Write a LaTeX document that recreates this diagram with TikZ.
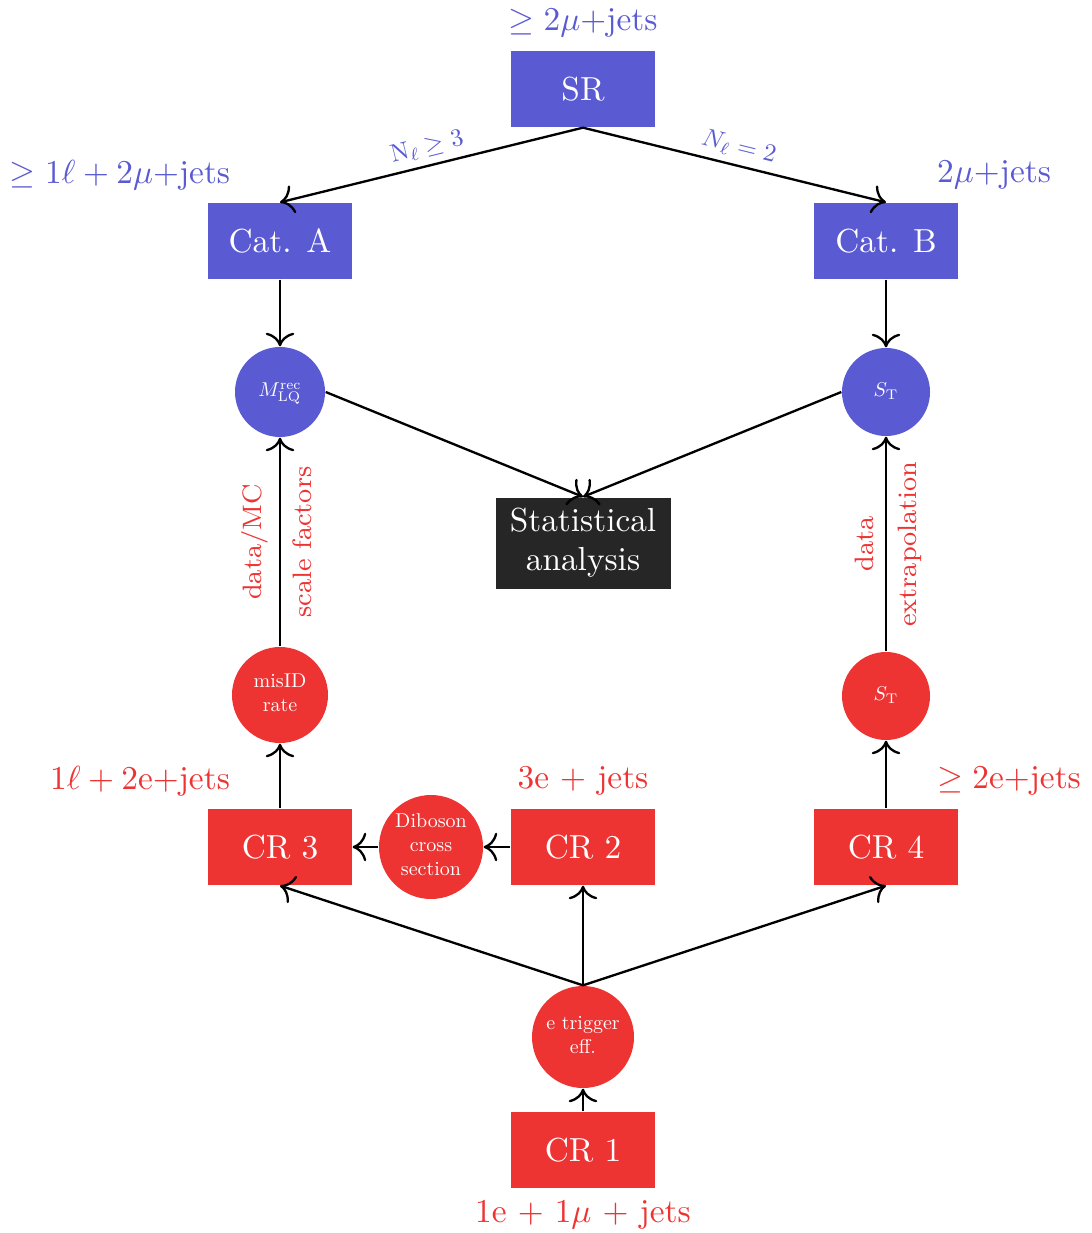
\documentclass[tikz,border=0pt]{standalone}
\usetikzlibrary{arrows.meta}
\definecolor{blueC}{HTML}{5A5AD3}
\definecolor{redC}{HTML}{EE3333}
\definecolor{darkC}{HTML}{262626}
\newcommand{\smalltxt}[1]{\scalebox{0.6}{\begin{tabular}{@{}c@{}}#1\end{tabular}}}
\tikzset{
  boxbase/.style={rectangle, text=white, inner sep=0pt, minimum width=43.2pt, minimum height=22.8pt, font=\fontsize{10}{12}\selectfont},
  bluebox/.style={boxbase, fill=blueC},
  redbox/.style={boxbase, fill=redC},
  circbase/.style={circle, text=white, inner sep=0pt, align=center, font=\fontsize{10}{12}\selectfont},
  bluecirc/.style={circbase, fill=blueC},
  redcirc/.style={circbase, fill=redC},
  bluelab/.style={text=blueC, font=\fontsize{10}{12}\selectfont},
  redlab/.style={text=redC, font=\fontsize{10}{12}\selectfont},
  conn/.style={-{To[scale=1.3]}, line width=0.7pt, black},
  elab/.style={font=\fontsize{10}{12}\selectfont, sloped, inner sep=2pt},
  vlab/.style={font=\fontsize{8}{9.6}\selectfont, sloped, text=redC}
}
\begin{document}
\begin{tikzpicture}[x=0.3pt, y=-0.3pt]
\useasboundingbox (0,0) rectangle (1091,1233);
% blue part
\node[bluebox] (sr) at (583,89) {SR};
\node[bluelab] (srl) at (583,23) {$\geq 2\mu$+jets};
\node[bluebox] (cata) at (280,241) {Cat. A};
\node[bluebox] (catb) at (886,241) {Cat. B};
\node[bluelab] (catal) at (120,175) {$\geq 1\ell + 2\mu$+jets};
\node[bluelab] (catbl) at (994,175) {$2\mu$+jets};
\node[bluecirc, minimum size=27pt] (mlq) at (280,392) {\smalltxt{$M_{\mathrm{LQ}}^{\mathrm{rec}}$}};
\node[bluecirc, minimum size=26.4pt] (stb) at (886,392) {\smalltxt{$S_{\mathrm{T}}$}};
\node[rectangle, fill=darkC, text=white, align=center, inner sep=0pt, minimum width=52.5pt, minimum height=27.3pt, font=\fontsize{10}{11.7}\selectfont] (stat) at (583,543) {Statistical\\analysis};
% red part
\node[redcirc, minimum size=28.8pt] (misid) at (280,695) {\smalltxt{misID\\rate}};
\node[redcirc, minimum size=26.4pt] (str) at (886,696) {\smalltxt{$S_{\mathrm{T}}$}};
\node[redbox] (cr3) at (280,847) {CR 3};
\node[redbox] (cr2) at (583,847) {CR 2};
\node[redbox] (cr4) at (886,847) {CR 4};
\node[redcirc, minimum size=31.2pt] (dib) at (431,847) {\smalltxt{Diboson\\cross\\section}};
\node[redcirc, minimum size=30.6pt] (trig) at (583,1037) {\smalltxt{e trigger\\eff.}};
\node[redbox] (cr1) at (583,1150) {CR 1};
\node[redlab] (cr3l) at (140,781) {$1\ell + 2$e+jets};
\node[redlab] (cr2l) at (583,781) {3e $+$ jets};
\node[redlab] (cr4l) at (1009,781) {$\geq 2$e+jets};
\node[redlab] (cr1l) at (583,1215) {1e $+$ 1$\mu$ $+$ jets};
% connectors
\draw[conn] (sr.south) -- node[elab, above, text=blueC] {\scalebox{0.75}{$\mathrm{N}_\ell \geq 3$}} (cata.north);
\draw[conn] (sr.south) -- node[elab, above, text=blueC] {\scalebox{0.75}{$N_\ell = 2$}} (catb.north);
\draw[conn] (cata.south) -- (mlq.north);
\draw[conn] (catb.south) -- (stb.north);
\draw[conn] (mlq.east) -- (stat.north);
\draw[conn] (stb.west) -- (stat.north);
\draw[conn] (misid.north) -- node[vlab, above] {data/MC} node[vlab, below] {scale factors} (mlq.south);
\draw[conn] (str.north) -- node[vlab, above] {data} node[vlab, below] {extrapolation} (stb.south);
\draw[conn] (cr3.north) -- (misid.south);
\draw[conn] (cr4.north) -- (str.south);
\draw[conn] (cr2.west) -- (dib.east);
\draw[conn] (dib.west) -- (cr3.east);
\draw[conn] (cr1.north) -- (trig.south);
\draw[conn] (trig.north) -- (cr3.south);
\draw[conn] (trig.north) -- (cr2.south);
\draw[conn] (trig.north) -- (cr4.south);
\end{tikzpicture}
\end{document}
